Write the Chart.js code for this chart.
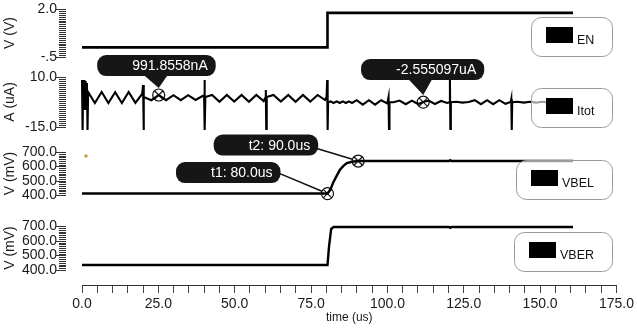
<!DOCTYPE html>
<html><head><meta charset="utf-8">
<script src="https://cdn.jsdelivr.net/npm/chart.js@4.4.0/dist/chart.umd.min.js"></script>
<style>
html,body{margin:0;padding:0;background:#fff;}
#wrap{position:relative;width:637px;height:330px;overflow:hidden;background:#fff;}
#wrap canvas{position:absolute;left:0;top:0;}
</style></head><body>
<div id="wrap">
<canvas id="c1" width="637" height="330"></canvas>
<canvas id="c2" width="637" height="330"></canvas>
<canvas id="c3" width="637" height="330"></canvas>
<canvas id="c4" width="637" height="330"></canvas>
<canvas id="c5" width="637" height="330"></canvas>
</div>
<script>
// ---------------- DATA ----------------
const timeMin = 0, timeMax = 175;
const xTickValues = [0, 25, 50, 75, 100, 125, 150, 175];
const xTickLabels = ['0.0', '25.0', '50.0', '75.0', '100.0', '125.0', '150.0', '175.0'];

// EN (V)
const enT = [0, 80, 80, 160];
const enV = [0, 0, 1.8, 1.8];
const enTicks = [-0.5, 2.0];
const enTickLabels = ['-.5', '2.0'];

// Itot (uA)
const itotT = [0, 0.2, 0.4, 0.6, 0.8, 1.0, 1.2, 1.4, 1.6, 1.8, 2.0,
  4.2, 6.4, 8.6, 10.8, 13.0, 15.2, 17.4, 19.6, 19.9, 20.05, 20.2,
  22.6, 25, 27.4, 29.8, 32.2, 34.6, 37, 39.4, 39.8, 39.9, 40.05, 40.2,
  42.4, 44.8, 47.2, 49.6, 52, 54.4, 56.8, 59.2, 59.7, 59.9, 60.05, 60.2,
  62.4, 64.8, 67.2, 69.6, 72, 74.4, 76.8, 79.2, 79.7, 79.9, 80.05, 80.2,
  81, 82, 83, 84, 85, 86, 87, 88, 89.5, 91.5, 93.5, 95.5, 97.5, 99.5, 99.9, 100.05, 100.2,
  101.5, 103.5, 105.5, 107.5, 109.5, 111.2, 113, 115, 117, 119, 119.7, 119.9, 120.05, 120.2,
  122, 124, 126, 128, 130, 132, 134, 136, 138, 139.7, 139.9, 140.05, 140.2,
  142, 144, 146, 148, 150, 152, 154, 156, 158, 160];
const itotV = [8.5, -16.5, 8.5, -6, 8.5, -6, 8, -5, 7, -16.5, 2.5,
  -3, 2.5, -3, 2.4, -3, 2.5, -2.9, 1.5, 6, -16.5, 0,
  -1.6, 0.99, -1.6, 0.9, -1.6, 0.9, -1.5, 0.6, 0, 8.5, -16.5, 0,
  1, -2.4, 1, -2.3, 1, -2.4, 1, -2, -0.5, 3.5, -16.5, 0,
  1, -2.3, 1, -2.4, 1, -2.3, 1, -1.5, 0, 8.5, -16.5, -2.6,
  -2.2, -3.0, -2.2, -3.0, -2.2, -3.0, -2.2, -3.0, -1.6, -3.8, -1.6, -3.8, -1.6, -3.2, 0, -16.5, -2.6,
  -2.6, -1.8, -3.6, -1.8, -3.5, -2.555, -1.8, -3.5, -2, -3, -2.6, 8.5, -16.5, -2.6,
  -2.4, -2.8, -2.5, -1.6, -3.6, -1.6, -3.6, -1.6, -3.4, -2.5, -1, -16.5, -2.6,
  -2.4, -2.8, -2.4, -2.8, -2.4, -2.8, -2.5, -2.7, -2.5, -2.6];
const itotTicks = [-15, 10];
const itotTickLabels = ['-15.0', '10.0'];
const itotMarkT = [25, 111.2];
const itotMarkV = [0.99, -2.555];
const itotMarkText = ['991.8558nA', '-2.555097uA'];

// VBEL (mV)
const vbelT = [0, 80, 81, 81.8, 82.9, 84, 85.2, 86.3, 88, 90, 119.6, 120, 120.4, 160];
const vbelV = [410, 410, 440, 484, 530, 574, 603, 623, 632, 637, 637, 643, 637, 637];
const vbelMarkT = [80, 90];
const vbelMarkV = [410, 637];
const vbelMarkText = ['t1: 80.0us', 't2: 90.0us'];
const vbelDotT = [1.3];
const vbelDotV = [672];

// VBER (mV)
const vberT = [0, 80, 80.5, 81.2, 82, 119.6, 120, 120.4, 160];
const vberV = [434, 434, 560, 680, 693, 693, 688, 693, 693];
const mvTicks = [400, 500, 600, 700];
const mvTickLabels = ['400.0', '500.0', '600.0', '700.0'];

// ---------------- HELPERS ----------------
const FONT = '"Liberation Sans", Arial, Helvetica, sans-serif';
const pts = (t, v) => t.map((x, i) => ({x: x, y: v[i]}));

const rulerPlugin = {
  id: 'ruler',
  afterDraw(chart, args, opts) {
    if (!opts || !opts.step) return;
    const y = chart.scales.y, ctx = chart.ctx;
    const x1 = chart.chartArea.left - 16;
    ctx.save();
    ctx.strokeStyle = '#333'; ctx.lineWidth = 1;
    const n = Math.round((y.max - y.min) / opts.step);
    for (let i = 0; i <= n; i++) {
      const v = y.min + i * opts.step;
      const py = Math.round(y.getPixelForValue(v)) + 0.5;
      const major = opts.major.some(m => Math.abs(m - v) < 1e-6);
      ctx.beginPath(); ctx.moveTo(x1 - (major ? 10 : 7), py); ctx.lineTo(x1, py); ctx.stroke();
    }
    ctx.restore();
  }
};

const boxLegend = {
  id: 'boxLegend',
  afterDraw(chart, args, opts) {
    if (!opts || opts.dy === undefined) return;
    const ctx = chart.ctx, ca = chart.chartArea;
    const label = chart.data.datasets[0].label;
    ctx.save();
    ctx.font = '12.5px ' + FONT;
    const tw = ctx.measureText(label).width;
    const w = Math.max(80, 15 + 27 + 4 + tw + 18), h = 39;
    const right = ca.right - 7, top = ca.top + opts.dy, left = right - w;
    ctx.beginPath(); ctx.roundRect(Math.round(left) + 0.5, Math.round(top) + 0.5, Math.round(w), h, 10);
    ctx.fillStyle = 'rgba(255,255,255,0.62)'; ctx.fill();
    ctx.strokeStyle = '#9a9a9a'; ctx.lineWidth = 1; ctx.stroke();
    ctx.fillStyle = '#000'; ctx.fillRect(Math.round(left) + 15, Math.round(top) + 10, 27, 16);
    ctx.textBaseline = 'alphabetic'; ctx.textAlign = 'left'; ctx.fillStyle = '#111';
    ctx.fillText(label, Math.round(left) + 15 + 27 + 4, Math.round(top) + 10 + 16 + 0.5);
    ctx.restore();
  }
};

const calloutPlugin = {
  id: 'callouts',
  afterDatasetsDraw(chart, args, opts) {
    const items = (opts && opts.items) || [];
    const ctx = chart.ctx, xs = chart.scales.x, ys = chart.scales.y;
    ctx.save();
    ctx.font = '14px ' + FONT;
    items.forEach(it => {
      const mx = xs.getPixelForValue(it.t), my = ys.getPixelForValue(it.v);
      const tw = ctx.measureText(it.text).width;
      const w = tw + 43, h = 21;
      const right = mx + it.dx;
      const top = it.kind === 'above' ? my + it.dy - h : my + it.dy - h / 2;
      const left = right - w;
      ctx.fillStyle = '#161616';
      if (it.kind === 'above') {
        ctx.beginPath();
        ctx.moveTo(mx - 15, top + h - 1); ctx.lineTo(mx + 9, top + h - 1); ctx.lineTo(mx, my - 7);
        ctx.closePath(); ctx.fill();
      } else {
        const sx = right - 3, sy = top + h / 2 + it.ly;
        const ang = Math.atan2(my - sy, mx - sx);
        ctx.strokeStyle = '#111'; ctx.lineWidth = 1.5;
        ctx.beginPath(); ctx.moveTo(sx, sy);
        ctx.lineTo(mx - Math.cos(ang) * 6, my - Math.sin(ang) * 6); ctx.stroke();
      }
      ctx.beginPath(); ctx.roundRect(left, top, w, h, 9); ctx.fill();
      ctx.fillStyle = '#fff'; ctx.textAlign = 'right'; ctx.textBaseline = 'middle';
      ctx.fillText(it.text, right - 8, top + h / 2 + 1);
    });
    ctx.restore();
  }
};

function markerSets(t, v) {
  const d = pts(t, v);
  return [
    {label: 'm1', data: d, showLine: false, pointStyle: 'circle', pointRadius: 6, pointBorderWidth: 1.2,
     pointBorderColor: '#111', pointBackgroundColor: 'rgba(255,255,255,0)', clip: false},
    {label: 'm2', data: d, showLine: false, pointStyle: 'crossRot', pointRadius: 6, pointBorderWidth: 1.2,
     pointBorderColor: '#111', pointBackgroundColor: 'rgba(0,0,0,0)', clip: false}
  ];
}

function makePanel(id, p) {
  return new Chart(document.getElementById(id), {
    type: 'line',
    data: {datasets: [
      {label: p.label, data: pts(p.t, p.v), borderColor: '#000', borderWidth: p.lw || 2.4,
       pointRadius: 0, tension: 0, fill: false, clip: p.clip || 1}
    ].concat(p.extra || [])},
    options: {
      responsive: false, animation: false, devicePixelRatio: 1,
      layout: {autoPadding: false, padding: {top: p.top, bottom: 330 - p.bottom, left: 0, right: 18}},
      plugins: {
        legend: {display: false}, tooltip: {enabled: false},
        ruler: {step: p.step, major: p.ticks},
        boxLegend: {dy: p.legendDy},
        callouts: {items: p.callouts || []}
      },
      scales: {
        x: {type: 'linear', min: timeMin, max: timeMax, display: false},
        y: {
          type: 'linear', min: p.min, max: p.max,
          afterFit: s => { s.width = 82; },
          afterBuildTicks: s => { s.ticks = p.ticks.map(v => ({value: v})); },
          grid: {display: true, drawOnChartArea: false, drawTicks: true, tickLength: 25, color: 'rgba(0,0,0,0)'},
          border: {display: false},
          ticks: {
            autoSkip: false, padding: 0, color: '#1a1a1a', font: {family: FONT, size: 14},
            callback: v => { const i = p.ticks.findIndex(k => Math.abs(k - v) < 1e-6); return i >= 0 ? p.tickLabels[i] : ''; }
          },
          title: {display: true, text: p.title, color: '#1a1a1a', font: {family: FONT, size: 14}, padding: {top: 2, bottom: 0}}
        }
      }
    },
    plugins: [rulerPlugin, boxLegend, calloutPlugin]
  });
}

// ---------------- PANELS ----------------
makePanel('c1', {label: 'EN', t: enT, v: enV, min: -0.5, max: 2.0, top: 9, bottom: 57,
  ticks: enTicks, tickLabels: enTickLabels, step: 0.1, title: 'V (V)', legendDy: 8, lw: 2.6});

makePanel('c2', {label: 'Itot', t: itotT, v: itotV, min: -15, max: 10, top: 77, bottom: 127,
  ticks: itotTicks, tickLabels: itotTickLabels, step: 1, title: 'A (uA)', legendDy: 11, lw: 2.1,
  clip: {left: 1, top: 1, right: 1, bottom: 3},
  extra: markerSets(itotMarkT, itotMarkV),
  callouts: [
    {kind: 'above', t: itotMarkT[0], v: itotMarkV[0], text: itotMarkText[0], dx: 57, dy: -19},
    {kind: 'above', t: itotMarkT[1], v: itotMarkV[1], text: itotMarkText[1], dx: 61, dy: -22}
  ]});

makePanel('c3', {label: 'VBEL', t: vbelT, v: vbelV, min: 400, max: 700, top: 152, bottom: 195,
  ticks: mvTicks, tickLabels: mvTickLabels, step: 12.5, title: 'V (mV)', legendDy: 8, lw: 2.4,
  extra: markerSets(vbelMarkT, vbelMarkV).concat([
    {label: 'dot', data: pts(vbelDotT, vbelDotV), showLine: false, pointStyle: 'rect', pointRadius: 2,
     pointBorderWidth: 0, pointBackgroundColor: '#c8922e'}]),
  callouts: [
    {kind: 'left', t: vbelMarkT[0], v: vbelMarkV[0], text: vbelMarkText[0], dx: -47, dy: -21, ly: 0},
    {kind: 'left', t: vbelMarkT[1], v: vbelMarkV[1], text: vbelMarkText[1], dx: -40, dy: -16, ly: 3}
  ]});

makePanel('c4', {label: 'VBER', t: vberT, v: vberV, min: 400, max: 700, top: 226, bottom: 270,
  ticks: mvTicks, tickLabels: mvTickLabels, step: 12.5, title: 'V (mV)', legendDy: 6, lw: 2.4});

// ---------------- X AXIS ----------------
new Chart(document.getElementById('c5'), {
  type: 'line',
  data: {datasets: []},
  options: {
    responsive: false, animation: false, devicePixelRatio: 1,
    layout: {padding: {top: 270, bottom: 1, left: 82, right: 18}},
    plugins: {legend: {display: false}, tooltip: {enabled: false}},
    scales: {
      y: {display: false, min: 0, max: 1},
      x: {
        type: 'linear', min: timeMin, max: timeMax, position: 'bottom',
        afterFit: s => { s.height = 44; },
        afterBuildTicks: s => { const a = []; for (let v = timeMin; v <= timeMax; v += 5) a.push({value: v}); s.ticks = a; },
        grid: {drawOnChartArea: false, drawTicks: true, tickLength: 8, color: '#444', lineWidth: 1},
        border: {display: true, color: '#333', width: 1},
        ticks: {
          autoSkip: false, maxRotation: 0, padding: 3, color: '#1a1a1a', font: {family: FONT, size: 14},
          callback: v => { const i = xTickValues.indexOf(v); return i >= 0 ? xTickLabels[i] : ''; }
        },
        title: {display: true, text: 'time (us)', color: '#1a1a1a', font: {family: FONT, size: 12}, padding: {top: 0, bottom: 4}}
      }
    }
  }
});
</script>
</body></html>
